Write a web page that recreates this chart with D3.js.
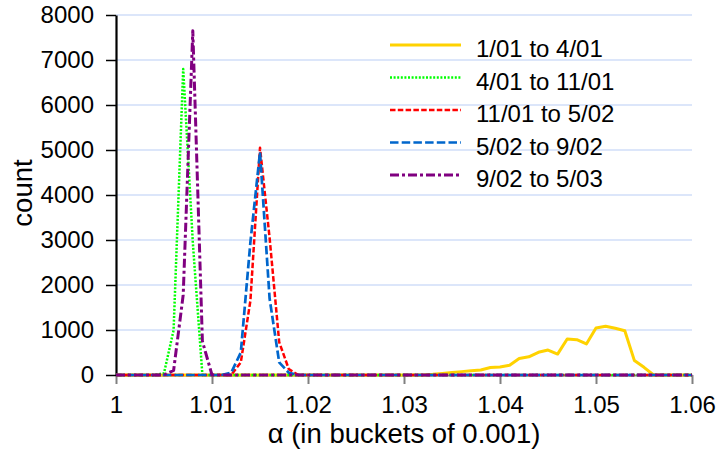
<!DOCTYPE html>
<html>
<head>
<meta charset="utf-8">
<script src="https://cdn.jsdelivr.net/npm/d3@7"></script>
<style>
  body { margin: 0; background: #fff; }
  text { font-family: 'Liberation Sans', Arial, sans-serif; fill: #000; }
</style>
</head>
<body>
<svg></svg>
<script>
// buckets of alpha, 0.001 wide
var buckets = [1.000, 1.001, 1.002, 1.003, 1.004, 1.005, 1.006, 1.007, 1.008, 1.009,
               1.010, 1.011, 1.012, 1.013, 1.014, 1.015, 1.016, 1.017, 1.018, 1.019,
               1.020, 1.021, 1.022, 1.023, 1.024, 1.025, 1.026, 1.027, 1.028, 1.029,
               1.030, 1.031, 1.032, 1.033, 1.034, 1.035, 1.036, 1.037, 1.038, 1.039,
               1.040, 1.041, 1.042, 1.043, 1.044, 1.045, 1.046, 1.047, 1.048, 1.049,
               1.050, 1.051, 1.052, 1.053, 1.054, 1.055, 1.056, 1.057, 1.058, 1.059,
               1.060];

var seriesNames = ['1/01 to 4/01', '4/01 to 11/01', '11/01 to 5/02', '5/02 to 9/02', '9/02 to 5/03'];

var counts0104 = [0, 0, 0, 0, 0, 0, 0, 0, 0, 0,
                  0, 0, 0, 0, 0, 0, 0, 0, 0, 0,
                  0, 0, 0, 0, 0, 0, 0, 0, 0, 0,
                  0, 0, 0, 15, 35, 55, 75, 95, 110, 165,
                  180, 215, 365, 405, 505, 555, 465, 800, 785, 690,
                  1045, 1085, 1040, 985, 320, 170, 0, 0, 0, 0,
                  0];
var counts0411 = [0, 0, 0, 0, 0, 40, 1000, 6800, 2950, 0,
                  0, 0, 0, 0, 0, 0, 0, 0, 0, 0,
                  0, 0, 0, 0, 0, 0, 0, 0, 0, 0,
                  0, 0, 0, 0, 0, 0, 0, 0, 0, 0,
                  0, 0, 0, 0, 0, 0, 0, 0, 0, 0,
                  0, 0, 0, 0, 0, 0, 0, 0, 0, 0,
                  0];
var counts1105 = [0, 0, 0, 0, 0, 0, 0, 0, 0, 0,
                  0, 0, 0, 280, 1650, 5050, 3050, 730, 130, 0,
                  0, 0, 0, 0, 0, 0, 0, 0, 0, 0,
                  0, 0, 0, 0, 0, 0, 0, 0, 0, 0,
                  0, 0, 0, 0, 0, 0, 0, 0, 0, 0,
                  0, 0, 0, 0, 0, 0, 0, 0, 0, 0,
                  0];
var counts0509 = [0, 0, 0, 0, 0, 0, 0, 0, 0, 0,
                  0, 0, 50, 500, 2950, 4950, 1700, 280, 50, 0,
                  0, 0, 0, 0, 0, 0, 0, 0, 0, 0,
                  0, 0, 0, 0, 0, 0, 0, 0, 0, 0,
                  0, 0, 0, 0, 0, 0, 0, 0, 0, 0,
                  0, 0, 0, 0, 0, 0, 0, 0, 0, 0,
                  0];
var counts0905 = [0, 0, 0, 0, 0, 0, 100, 1780, 7650, 750,
                  0, 0, 0, 0, 0, 0, 0, 0, 0, 0,
                  0, 0, 0, 0, 0, 0, 0, 0, 0, 0,
                  0, 0, 0, 0, 0, 0, 0, 0, 0, 0,
                  0, 0, 0, 0, 0, 0, 0, 0, 0, 0,
                  0, 0, 0, 0, 0, 0, 0, 0, 0, 0,
                  0];

var xTicks = [1, 1.01, 1.02, 1.03, 1.04, 1.05, 1.06];
var xTickLabels = ['1', '1.01', '1.02', '1.03', '1.04', '1.05', '1.06'];
var yTicks = [0, 1000, 2000, 3000, 4000, 5000, 6000, 7000, 8000];

var width = 718;
var height = 452;
// plot box (note: "top" is taken by window.top, so use other names)
var plotLeft = 116, plotRight = 692, plotTop = 15, plotBottom = 375;

var series = [
  { name: seriesNames[0], values: counts0104, color: '#ffd200', width: 3, dash: null },
  { name: seriesNames[1], values: counts0411, color: '#00ff00', width: 2.5, dash: '2,1.6' },
  { name: seriesNames[2], values: counts1105, color: '#ff0000', width: 2.5, dash: '5.5,2.3' },
  { name: seriesNames[3], values: counts0509, color: '#0066cc', width: 2.7, dash: '8.5,3.2' },
  { name: seriesNames[4], values: counts0905, color: '#800080', width: 3, dash: '9,3,3,3' }
];

var xScale = d3.scaleLinear()
                .domain([1, 1.06])
                .range([plotLeft, plotRight]);

var yScale = d3.scaleLinear()
                .domain([0, 8000])
                .range([plotBottom, plotTop]);

var svg = d3.select('svg')
    .attr('width', width)
    .attr('height', height);

// gridlines
svg.append('g')
  .selectAll('line')
  .data(yTicks.slice(1))
  .enter()
  .append('line')
    .attr('x1', plotLeft)
    .attr('x2', plotRight)
    .attr('y1', d => yScale(d))
    .attr('y2', d => yScale(d))
    .attr('stroke', '#b9cdf5')
    .attr('stroke-width', 1);

var xAxis = d3.axisBottom(xScale)
              .tickValues(xTicks)
              .tickFormat((d, i) => xTickLabels[i])
              .tickSize(9)
              .tickSizeOuter(0)
              .tickPadding(12);

var yAxis = d3.axisLeft(yScale)
              .tickValues(yTicks)
              .tickFormat(d3.format('d'))
              .tickSize(10)
              .tickSizeOuter(0)
              .tickPadding(12);

var gx = svg.append('g')
    .attr('transform', 'translate(0,' + plotBottom + ')')
    .call(xAxis);
gx.select('.domain').attr('stroke', '#808080').attr('stroke-width', 2);
gx.selectAll('.tick line').attr('stroke', '#808080').attr('stroke-width', 2);
gx.selectAll('.tick text').style('font-size', '24px').attr('fill', '#000');

var gy = svg.append('g')
    .attr('transform', 'translate(' + plotLeft + ',0)')
    .call(yAxis);
gy.select('.domain').attr('stroke', '#000').attr('stroke-width', 2.2);
gy.selectAll('.tick line').attr('stroke', '#000').attr('stroke-width', 1.5);
gy.selectAll('.tick text').style('font-size', '24px').attr('fill', '#000');

var line = d3.line()
    .x((d, i) => xScale(buckets[i]))
    .y(d => yScale(d));

svg.append('g')
  .selectAll('path')
  .data(series)
  .enter()
  .append('path')
    .attr('d', d => line(d.values))
    .attr('fill', 'none')
    .attr('stroke', d => d.color)
    .attr('stroke-width', d => d.width)
    .attr('stroke-dasharray', d => d.dash)
    .attr('stroke-linejoin', 'round');

// legend
var legend = svg.append('g')
  .selectAll('g')
  .data(series)
  .enter()
  .append('g')
    .attr('transform', (d, i) => 'translate(0,' + (45 + i * 32.5) + ')');

legend.append('line')
    .attr('x1', 390)
    .attr('x2', 461)
    .attr('stroke', d => d.color)
    .attr('stroke-width', d => d.width)
    .attr('stroke-dasharray', d => d.dash);

legend.append('text')
    .attr('x', 476)
    .attr('y', 12.3)
    .style('font-size', '24px')
    .text(d => d.name);

// axis titles
svg.append('text')
  .attr('x', (plotLeft + plotRight) / 2)
  .attr('y', 443)
  .style('text-anchor', 'middle')
  .style('font-size', '27.5px')
  .text('α (in buckets of 0.001)');

svg.append('text')
  .attr('transform', 'translate(32,193) rotate(-90)')
  .style('text-anchor', 'middle')
  .style('font-size', '27.5px')
  .text('count');
</script>
</body>
</html>
